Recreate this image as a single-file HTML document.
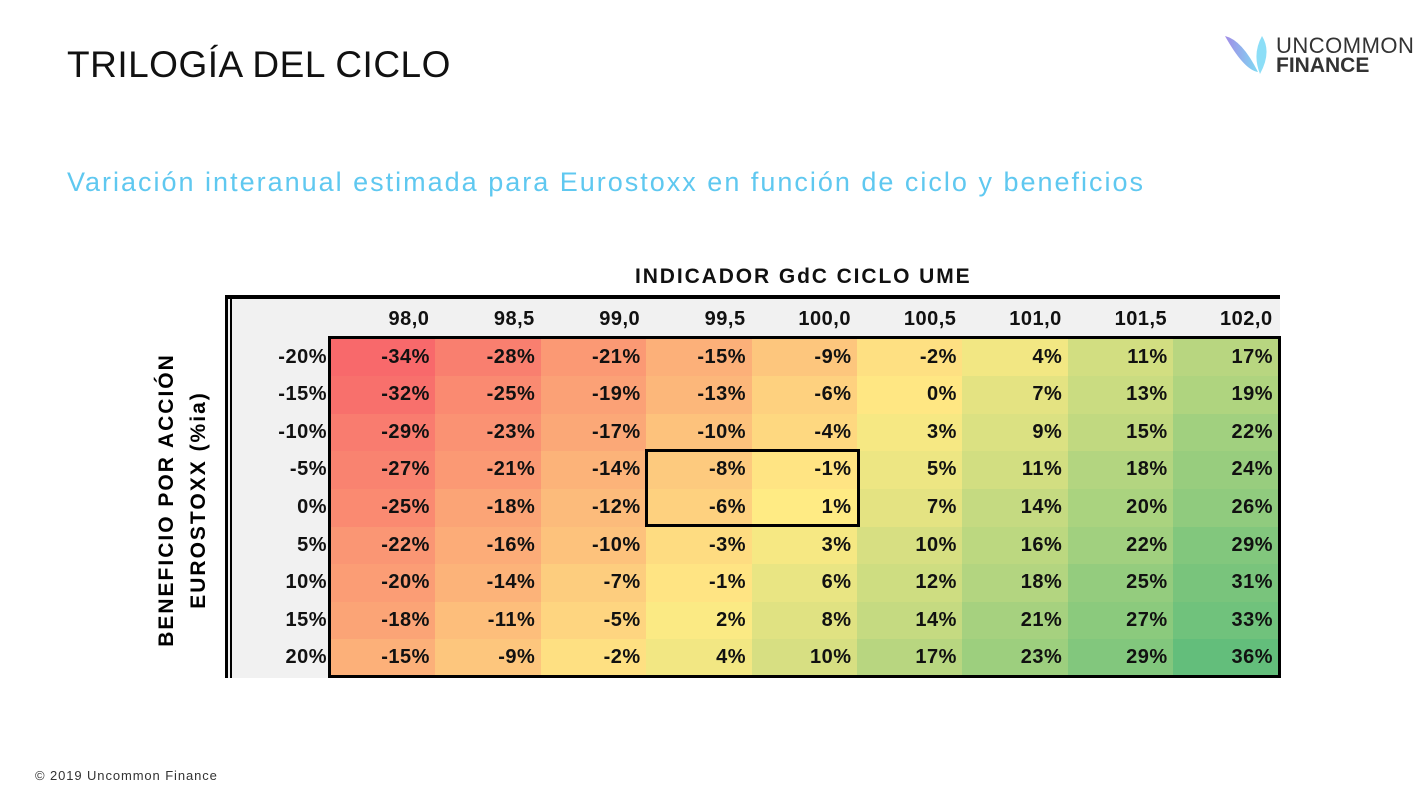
<!DOCTYPE html>
<html><head><meta charset="utf-8"><style>
body{margin:0;width:1428px;height:800px;background:#fff;position:relative;overflow:hidden;font-family:"Liberation Sans",sans-serif}
.a{position:absolute}
.c{position:absolute;text-align:right;font-weight:bold;font-size:20px;color:#111;line-height:37px;box-sizing:border-box;padding-right:6px;letter-spacing:0.5px}
</style></head><body>
<div class="a" style="left:67px;top:44px;font-size:37px;color:#111;letter-spacing:0.5px">TRILOGÍA DEL CICLO</div>
<div class="a" style="left:67px;top:167px;font-size:27px;color:#5fc8f0;letter-spacing:2px">Variación interanual estimada para Eurostoxx en función de ciclo y beneficios</div>
<div class="a" style="left:1222px;top:32px;width:46px;height:44px">
<svg width="46" height="44"><defs><linearGradient id="g" x1="0" x2="1"><stop offset="0" stop-color="#8a6ee0"/><stop offset="1" stop-color="#5fd0f0"/></linearGradient></defs>
<path d="M3 4 Q20 8 36 40 Q22 38 3 4Z" fill="url(#g)" opacity="0.8"/><path d="M40 4 Q50 20 38 42 Q30 22 40 4Z" fill="#6fd6f5" opacity="0.8"/></svg></div>
<div class="a" style="left:1276px;top:33px;font-size:22px;color:#333;letter-spacing:0.5px">UNCOMMON</div>
<div class="a" style="left:1276px;top:54px;font-size:21px;color:#333;font-weight:bold">FINANCE</div>
<div class="a" style="left:635px;top:265px;font-size:21px;font-weight:bold;color:#111;letter-spacing:1.9px">INDICADOR GdC CICLO UME</div>
<div class="a" style="left:225px;top:295px;width:1055px;height:383px;background:#f1f1f1"></div>
<div class="a" style="left:225px;top:295px;width:1055px;height:4px;background:#000"></div>
<div class="a" style="left:225px;top:295px;width:3px;height:383px;background:#000"></div>
<div class="a" style="left:230px;top:295px;width:2px;height:383px;background:#000"></div>
<div class="a" style="left:155px;top:500px;width:0;height:0"><div style="position:absolute;transform:translate(-50%,-50%) rotate(-90deg);white-space:nowrap;font-weight:bold;font-size:21px;letter-spacing:2px;text-align:center;line-height:32px;left:28px">BENEFICIO POR ACCIÓN<br>EUROSTOXX (%ia)</div></div>
<div id="t"></div>
<div class="a" style="left:328px;top:336px;width:947px;height:336px;border:3px solid #000"></div>
<div class="a" style="left:645px;top:449px;width:209px;height:72px;border:3px solid #000"></div>
<div class="a" style="left:35px;top:768px;font-size:13px;color:#333;letter-spacing:0.9px">© 2019 Uncommon Finance</div>
<script>
var d=[[-34,-28,-21,-15,-9,-2,4,11,17],[-32,-25,-19,-13,-6,0,7,13,19],[-29,-23,-17,-10,-4,3,9,15,22],[-27,-21,-14,-8,-1,5,11,18,24],[-25,-18,-12,-6,1,7,14,20,26],[-22,-16,-10,-3,3,10,16,22,29],[-20,-14,-7,-1,6,12,18,25,31],[-18,-11,-5,2,8,14,21,27,33],[-15,-9,-2,4,10,17,23,29,36]];
var rows=["-20%","-15%","-10%","-5%","0%","5%","10%","15%","20%"],cols=["98,0","98,5","99,0","99,5","100,0","100,5","101,0","101,5","102,0"];
var R=[248,105,107],Y=[255,235,132],G=[99,190,123],mid=1,h="";
function mix(a,b,t){return "rgb("+a.map((v,i)=>Math.round(v+(b[i]-v)*t)).join(",")+")"}
var x0=330,cw=105.4,y0=338.5,rh=37.6;
cols.forEach((c,j)=>{h+='<div class="c" style="left:'+(x0+j*cw)+'px;top:301px;width:'+cw+'px">'+c+'</div>'});
rows.forEach((r,i)=>{h+='<div class="c" style="left:232px;top:'+(y0+i*rh)+'px;width:98px;padding-right:3px">'+r+'</div>';
d[i].forEach((v,j)=>{var col=v<=mid?mix(R,Y,(v+34)/(mid+34)):mix(Y,G,(v-mid)/(36-mid));
h+='<div class="c" style="left:'+(x0+j*cw)+'px;top:'+(y0+i*rh)+'px;width:'+(cw+0.5)+'px;height:'+(rh+0.5)+'px;background:'+col+'">'+v+'%</div>'})});
document.getElementById("t").innerHTML=h;
</script>
</body></html>
